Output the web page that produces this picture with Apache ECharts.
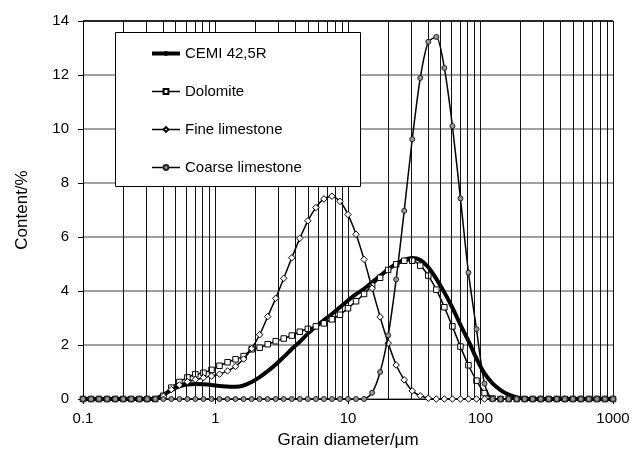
<!DOCTYPE html>
<html><head><meta charset="utf-8">
<script src="https://cdn.jsdelivr.net/npm/echarts@6.0.0/dist/echarts.min.js"></script>
<style>html,body{margin:0;padding:0;background:#fff}#c{width:636px;height:458px}</style>
</head><body><div id="c"></div>
<script>
// Grain diameters (µm), log-spaced measuring classes
const diameters = [0.1, 0.115, 0.132, 0.152, 0.175, 0.201, 0.231, 0.266, 0.305, 0.351, 0.404, 0.464, 0.534, 0.614, 0.705, 0.811, 0.933,
  1.072, 1.233, 1.417, 1.630, 1.874, 2.154, 2.477, 2.848, 3.275, 3.765, 4.329, 4.977, 5.722, 6.579, 7.565, 8.697,
  10.0, 11.50, 13.22, 15.20, 17.48, 20.10, 23.10, 26.56, 30.54, 35.11, 40.37, 46.42, 53.37, 61.36, 70.55, 81.11, 93.26,
  107.2, 123.3, 141.7, 163.0, 187.4, 215.4, 247.7, 284.8, 327.5, 376.5, 432.9, 497.7, 572.2, 657.9, 756.5, 869.7, 1000];

const cemi = [0,0,0,0,0,0,0,0,0,
  0.02,0.15,0.33,0.47,0.54,0.56,0.55,0.52,0.48,0.46,0.45,0.50,0.63,0.81,1.03,1.28,1.56,1.85,2.12,2.42,2.68,2.92,3.15,3.40,3.65,3.88,4.08,4.32,4.56,4.80,5.00,5.15,5.22,5.15,4.88,4.45,3.95,3.38,2.75,2.15,1.50,0.95,0.58,0.33,0.16,0.06,0.01,
  0,0,0,0,0,0,0,0,0,0,0];

const dolomite = [0,0,0,0,0,0,0,0,0,0,
  0.12,0.42,0.63,0.80,0.92,0.97,1.08,1.23,1.36,1.47,1.59,1.84,1.90,2.03,2.14,2.24,2.35,2.49,2.60,2.69,2.80,2.95,3.12,3.36,3.62,3.89,4.20,4.49,4.78,4.99,5.12,5.12,4.94,4.57,4.05,3.40,2.69,1.94,1.25,0.68,0.22,0.02,
  0,0,0,0,0,0,0,0,0,0,0,0,0,0,0];

const fineLimestone = [0,0,0,0,0,0,0,0,0,0,
  0.10,0.35,0.52,0.64,0.72,0.79,0.85,0.92,1.04,1.21,1.48,1.87,2.38,3.05,3.73,4.47,5.23,5.95,6.60,7.09,7.41,7.51,7.32,6.83,6.10,5.17,4.10,3.04,2.07,1.26,0.71,0.30,0.12,0.03,
  0,0,0,0,0,0,0,0,0,0,0,0,0,0,0,0,0,0,0,0,0,0,0];

const coarseLimestone = [0,0,0,0,0,0,0,0,0,0,0,0,0,0,0,0,0,0,0,0,0,0,0,0,0,0,0,0,0,0,0,0,0,0,0,0,
  0.23,1.00,2.36,4.43,6.97,9.62,11.89,13.23,13.41,12.26,10.11,7.43,4.68,2.59,0.57,
  0,0,0,0,0,0,0,0,0,0,0,0,0,0,0,0];

const seriesNames = ['CEMI 42,5R', 'Dolomite', 'Fine limestone', 'Coarse limestone'];
const xTickLabels = ['0.1', '1', '10', '100', '1000'];
const yTickLabels = ['0', '2', '4', '6', '8', '10', '12', '14'];
const minorGridX = [0.2,0.3,0.4,0.5,0.6,0.7,0.8,0.9, 2,3,4,5,6,7,8,9, 20,30,40,50,60,70,80,90, 200,300,400,500,600,700,800,900, 1000];
const xRange = [0.1, 1000];
const yTop = 14;
const xAxisTitle = 'Grain diameter/µm';
const yAxisTitle = 'Content/%';

const pair = arr => diameters.map((d, i) => [d, arr[i]]);
const hLine = (v, color) => [
  {coord: [xRange[0], v], lineStyle: {color: color, width: 1.5, type: 'solid'}},
  {coord: [xRange[1], v]}
];
const FONT = 'Liberation Sans';

const chart = echarts.init(document.getElementById('c'), null, {renderer: 'canvas'});
chart.setOption({
  animation: false,
  backgroundColor: '#fff',
  textStyle: {fontFamily: FONT},
  grid: {left: 83, right: 23, top: 21, bottom: 59},
  xAxis: {
    type: 'log', logBase: 10, min: xRange[0], max: xRange[1],
    name: xAxisTitle, nameLocation: 'middle', nameGap: 33,
    nameTextStyle: {fontSize: 17, color: '#000', fontFamily: FONT},
    axisLine: {show: true, lineStyle: {color: '#000', width: 1}},
    axisTick: {show: true, inside: false, length: 5, lineStyle: {color: '#000'}},
    axisLabel: {fontSize: 15, color: '#000', margin: 12, fontFamily: FONT,
      formatter: v => xTickLabels[Math.round(Math.log10(v)) + 1]},
    splitLine: {show: true, lineStyle: {color: '#111', width: 1}}
  },
  yAxis: {
    type: 'value', min: 0, max: yTop, interval: 2,
    name: yAxisTitle, nameLocation: 'middle', nameGap: 52, nameRotate: 90,
    nameTextStyle: {fontSize: 17, color: '#000', fontFamily: FONT},
    axisLine: {show: true, lineStyle: {color: '#000', width: 1}},
    axisTick: {show: true, inside: false, length: 5, lineStyle: {color: '#000'}},
    axisLabel: {fontSize: 15, color: '#000', margin: 14, fontFamily: FONT,
      formatter: v => yTickLabels[Math.round(v / 2)]},
    splitLine: {show: true, lineStyle: {color: '#a0a0a0', width: 2}}
  },
  legend: {
    orient: 'vertical', left: 150, top: 46, padding: 0,
    itemWidth: 28, itemHeight: 6, itemGap: 23, z: 20,
    textStyle: {fontSize: 15, color: '#000', fontFamily: FONT},
    data: [
      {name: seriesNames[0], lineStyle: {width: 4}},
      {name: seriesNames[1], lineStyle: {width: 1.5}},
      {name: seriesNames[2], lineStyle: {width: 1.5}},
      {name: seriesNames[3], lineStyle: {width: 1.5}}
    ]
  },
  graphic: [{
    type: 'rect', z: 15, silent: true,
    shape: {x: 115.5, y: 32.5, width: 245, height: 154},
    style: {fill: '#fff', stroke: '#000', lineWidth: 1}
  }],
  series: [
    {
      name: seriesNames[0], type: 'line', data: pair(cemi), z: 3, clip: false,
      smooth: 0.4, showSymbol: false, symbol: 'none',
      lineStyle: {color: '#000', width: 4}, itemStyle: {color: '#000'},
      markLine: {
        silent: true, symbol: ['none', 'none'], animation: false,
        label: {show: false},
        lineStyle: {color: '#111', width: 1, type: 'solid'},
        emphasis: {disabled: true},
        data: minorGridX.map(v => ({xAxis: v})).concat([hLine(yTop, '#000')])
      }
    },
    {
      name: seriesNames[1], type: 'line', data: pair(dolomite), z: 4,
      smooth: 0.25, symbol: 'rect', symbolSize: 5.5, showAllSymbol: true,
      lineStyle: {color: '#000', width: 1.5},
      itemStyle: {color: '#fff', borderColor: '#000', borderWidth: 1}
    },
    {
      name: seriesNames[2], type: 'line', data: pair(fineLimestone), z: 5,
      smooth: 0.25, symbol: 'diamond', symbolSize: 6.5, showAllSymbol: true,
      lineStyle: {color: '#000', width: 1.5},
      itemStyle: {color: '#fff', borderColor: '#000', borderWidth: 1}
    },
    {
      name: seriesNames[3], type: 'line', data: pair(coarseLimestone), z: 6,
      smooth: 0.25, symbol: 'circle', symbolSize: 5, showAllSymbol: true,
      lineStyle: {color: '#000', width: 1.5},
      itemStyle: {color: '#999', borderColor: '#222', borderWidth: 1}
    }
  ]
});
</script>
</body></html>
